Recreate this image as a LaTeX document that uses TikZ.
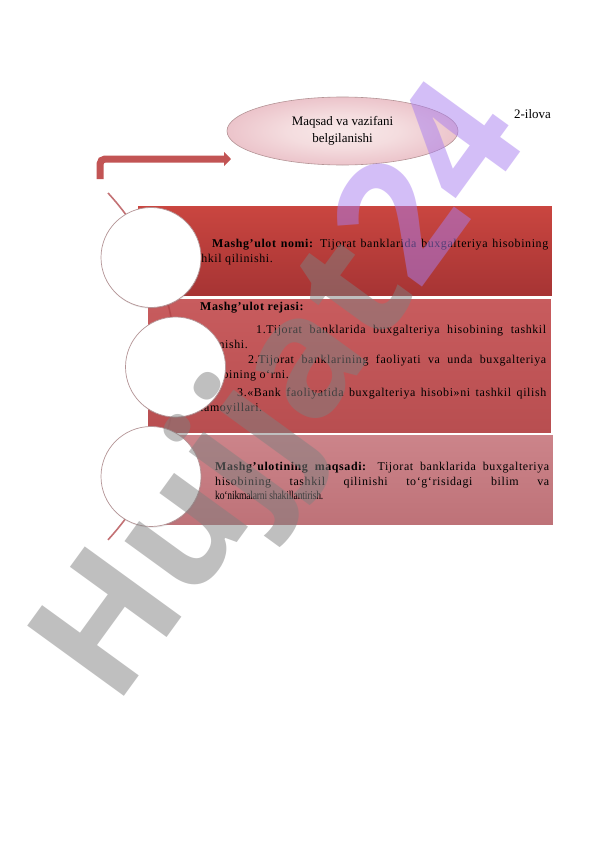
\documentclass[tikz,border=0pt]{standalone}
\usepackage{fontspec}
\setmainfont{Liberation Serif}
\newfontfamily\spaced[LetterSpace=5]{Liberation Serif}
\newfontfamily\squeezed[FakeStretch=0.8,LetterSpace=-1.5]{Liberation Serif}
\newfontfamily\markfont{Open Sans}
\usetikzlibrary{arrows.meta,shapes.geometric,shadows}
\setlength{\parindent}{0pt}
\definecolor{barA}{RGB}{202,70,64}
\definecolor{barAd}{RGB}{166,52,52}
\definecolor{barB}{RGB}{200,92,94}
\definecolor{barBd}{RGB}{184,78,80}
\definecolor{barC}{RGB}{204,132,138}
\definecolor{barCd}{RGB}{190,114,120}
\definecolor{pinkedge}{RGB}{222,156,170}
\definecolor{pinkmid}{RGB}{248,232,232}
\definecolor{rimgray}{RGB}{180,148,150}
\definecolor{arcred}{RGB}{176,66,70}
\definecolor{arrowred}{RGB}{194,84,84}
\definecolor{markgray}{RGB}{128,128,128}
\definecolor{markviolet}{RGB}{168,126,240}
\pgfdeclareradialshading{softglow}{\pgfpoint{0bp}{0bp}}{color(0bp)=(pinkmid); color(12bp)=(pinkmid!85!pinkedge); color(46bp)=(pinkedge); color(50bp)=(pinkedge)}
\tikzset{
  bar/.style={draw=white, line width=0.8bp},
  disc/.style={circle, draw=rimgray, line width=0.7bp, fill=white, minimum size=100bp, inner sep=0pt,
    drop shadow={opacity=0.18, shadow xshift=0.6bp, shadow yshift=-1.2bp}},
  body/.style={anchor=north west, inner sep=0pt, align=justify, font=\spaced\fontsize{12}{15}\selectfont},
  arcline/.style={draw=arcred, line width=1.6bp, opacity=0.75},
  turn/.style={draw=arrowred, line width=7bp, rounded corners=5bp, -{Triangle[length=7bp,width=14bp]}}
}
\begin{document}
\begin{tikzpicture}[x=1bp,y=-1bp]
\useasboundingbox (0,0) rectangle (596,842);
\fill[white] (0,0) rectangle (596,842);
\shade[bar, top color=barA, bottom color=barAd] (137,205) rectangle (552,296);
\shade[bar, top color=barB, bottom color=barBd] (147,298) rectangle (551,433);
\shade[bar, top color=barC, bottom color=barCd] (137,434) rectangle (553,525);
\node[body, text width=362bp] (nameText) at (186,236.5) {\strut\hspace*{26bp}{\bfseries Mashg’ulot nomi:} Tijorat banklarida buxgalteriya hisobining\linebreak tashkil qilinishi.};
\node[body, text width=346bp] (planText) at (200,299.5) {\strut{\bfseries Mashg’ulot rejasi:}\par\vspace{8bp}
\hspace*{56bp}1.Tijorat banklarida buxgalteriya hisobining tashkil\linebreak qilinishi.\par\vspace{1bp}
\hspace*{48bp}2.Tijorat banklarining faoliyati va unda buxgalteriya\linebreak hisobining o‘rni.\par\vspace{3bp}
\hspace*{37bp}3.«Bank faoliyatida buxgalteriya hisobi»ni tashkil qilish\linebreak tamoyillari.};
\node[body, text width=334bp, font=\spaced\fontsize{12}{14.5}\selectfont] (aimText) at (215,460.5) {\strut{\bfseries Mashg’ulotining maqsadi:} Tijorat banklarida buxgalteriya\linebreak hisobining tashkil qilinishi to‘g‘risidagi bilim va\linebreak {\squeezed ko‘nikmalarni shakillantirish.}};
\draw[arcline] (108,193) arc[start angle=-42.7, end angle=42.7, radius=255.7];
\node[disc] (c1) at (151,257.5) {};
\node[disc] (c2) at (175.5,367) {};
\node[disc] (c3) at (151,476.5) {};
\node[ellipse, draw=rimgray, line width=0.6bp, shade, shading=softglow, minimum width=231bp, minimum height=68bp,
  align=center, font=\fontsize{13}{17}\selectfont] (goal) at (342.5,131) {Maqsad va vazifani\\belgilanishi};
\node[font=\fontsize{13}{15}\selectfont] (annex) at (532.5,114) {2-ilova};
\draw[turn] (100,179) |- (231,159);
\node[rotate=54, text opacity=0.5, inner sep=0pt, font=\markfont\bfseries\fontsize{168}{168}\selectfont] (mark) at (288,398)
  {\textcolor{markgray}{Hujjat}\textcolor{markviolet}{24}};
\end{tikzpicture}
\end{document}
